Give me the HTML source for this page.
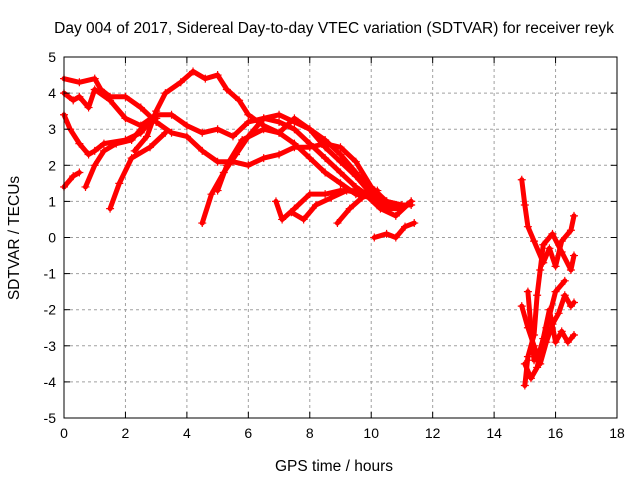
<!DOCTYPE html>
<html><head><meta charset="utf-8"><style>
body{margin:0;background:#fff}
svg{display:block;font-family:"Liberation Sans",sans-serif}
</style></head><body>
<svg id="chart" width="640" height="480" viewBox="0 0 640 480">
<rect width="640" height="480" fill="#fff"/>
<text x="334" y="33" font-size="15.5" text-anchor="middle">Day 004 of 2017, Sidereal Day-to-day VTEC variation (SDTVAR) for receiver reyk</text>
<g id="grid"></g>
<g id="series"></g>
<rect x="64" y="57" width="553" height="361" fill="none" stroke="#000" stroke-width="1"/>
<g id="ticks"></g>
<text transform="translate(19,238) rotate(-90)" font-size="15.5" text-anchor="middle">SDTVAR / TECUs</text>
<text x="334" y="471" font-size="15.5" text-anchor="middle">GPS time / hours</text>
</svg>
<script>
const xTicks=[0,2,4,6,8,10,12,14,16,18];
const yTicks=[-5,-4,-3,-2,-1,0,1,2,3,4,5];
const tracksX=[
[0,0.5,1,1.2,1.5,2,2.5,3,3.5,4,4.5,5,5.5,6,6.5,7,7.5,8,8.5,9,9.5,10,10.5,11,11.3],
[0,0.3,0.5,0.8,1,1.5,2,2.5,3,3.5,4,4.5,5,5.5,6,6.5,7,7.5,8,8.5,9,9.5,10,10.5,11],
[0,0.2,0.5,0.8,1,1.3,2,2.5,2.8,3],
[2.3,2.7,3,3.3,3.8,4.2,4.6,5,5.3,5.7,6,6.5,7,7.5,8,8.5,9,9.5,10],
[0,0.3,0.5],
[0.7,1,1.3,1.7,2.2,2.6,3],
[1.5,1.8,2.2,2.8,3.3],
[4.5,4.8,5.2,5.6,6,6.5,7,7.5,8,8.5,9,9.5,10,10.5,11],
[5,5.3,5.8,6.5,7,7.5,8,8.5,9,9.5,10,10.5],
[6.9,7.1,7.5,8,8.5,9,9.5,10,10.5,11,11.3],
[7.4,7.8,8.2,8.7,9.2,9.8,10.3,10.8,11.3],
[8.9,9.3,9.7,10.2],
[10.1,10.5,10.8,11.1,11.4],
[14.9,15,15.1,15.3,15.6,15.8,16,16.2,16.5,16.6],
[15,15.1,15.3,15.4,15.5,15.6,15.9,16.2,16.5,16.6],
[14.9,15.1,15.3,15.5,15.7,15.9,16.1,16.3,16.5,16.6],
[15,15.2,15.4,15.6,15.8,16,16.2,16.4,16.6],
[15.1,15.2,15.3,15.5,15.7,16,16.3]
];
const tracksY=[
[4.4,4.3,4.4,4.1,3.9,3.9,3.6,3.2,2.9,2.8,2.4,2.1,2.1,2.0,2.2,2.3,2.5,2.5,2.6,2.5,2.1,1.4,1.0,0.9,0.9],
[4.0,3.8,3.9,3.6,4.1,3.8,3.3,3.1,3.4,3.4,3.1,2.9,3.0,2.8,3.2,3.3,3.2,3.0,2.6,2.2,1.8,1.4,1.1,0.8,0.8],
[3.4,3.0,2.6,2.3,2.4,2.6,2.7,2.9,3.2,3.3],
[2.4,2.8,3.5,4.0,4.3,4.6,4.4,4.5,4.1,3.8,3.4,3.1,2.9,2.6,2.2,1.8,1.5,1.2,1.1],
[1.4,1.7,1.8],
[1.4,2.0,2.4,2.6,2.7,3.1,3.3],
[0.8,1.5,2.2,2.5,2.9],
[0.4,1.2,1.8,2.3,2.8,3.3,3.4,3.2,3.0,2.5,2.1,1.7,1.2,1.0,0.9],
[1.3,2.0,2.7,3.0,2.9,3.3,3.0,2.7,2.3,1.8,1.3,1.0],
[1.0,0.5,0.8,1.2,1.2,1.3,1.3,1.2,0.9,0.8,1.0],
[0.7,0.5,0.9,1.1,1.3,1.2,0.8,0.6,1.0],
[0.4,0.8,1.1,1.3],
[0.0,0.1,0.0,0.3,0.4],
[1.6,0.9,0.3,-0.1,-0.7,-0.3,-0.8,-0.1,0.2,0.6],
[-4.1,-3.3,-2.7,-1.6,-0.9,-0.2,0.1,-0.4,-0.9,-0.5],
[-1.9,-2.5,-3.0,-3.5,-2.9,-2.4,-2.1,-1.6,-1.9,-1.8],
[-3.5,-3.9,-3.6,-2.8,-2.0,-2.9,-2.6,-2.9,-2.7],
[-1.5,-2.5,-3.4,-3.1,-2.5,-1.5,-1.2]
];
const L=64,R=617,T=57,B=418;
const sx=v=>L+(v-0)/18*(R-L);
const sy=v=>T+(5-v)/10*(B-T);
const NS='http://www.w3.org/2000/svg';
const grid=document.getElementById('grid'),ticks=document.getElementById('ticks'),series=document.getElementById('series');
function mk(tag,attrs,parent){const e=document.createElementNS(NS,tag);for(const k in attrs)e.setAttribute(k,attrs[k]);parent.appendChild(e);return e;}
xTicks.forEach(v=>{
 const x=sx(v);
 if(v>0&&v<18){const g=mk('line',{x1:x,x2:x,y1:T,y2:B,stroke:'#a0a0a0','stroke-dasharray':'3,3'},grid);
 
 }
 mk('line',{x1:x,x2:x,y1:B,y2:B-6,stroke:'#000'},ticks);
 mk('line',{x1:x,x2:x,y1:T,y2:T+6,stroke:'#000'},ticks);
 const t=mk('text',{x:x,y:B+20,'font-size':14,'text-anchor':'middle'},ticks);t.textContent=v;
 
 
});
yTicks.forEach(v=>{
 const y=sy(v);
 if(v>-5&&v<5){const g=mk('line',{x1:L,x2:R,y1:y,y2:y,stroke:'#a0a0a0','stroke-dasharray':'3,3'},grid);
 
 }
 mk('line',{x1:L,x2:L+6,y1:y,y2:y,stroke:'#000'},ticks);
 mk('line',{x1:R,x2:R-6,y1:y,y2:y,stroke:'#000'},ticks);
 const t=mk('text',{x:L-8,y:y+5,'font-size':14,'text-anchor':'end'},ticks);t.textContent=v;
 
 
});
tracksX.forEach((xs,i)=>{
 const ys=tracksY[i];
 const pts=xs.map((x,j)=>sx(x)+','+sy(ys[j])).join(' ');
 const p=mk('polyline',{points:pts,fill:'none',stroke:'#ff0000','stroke-width':5,'stroke-linejoin':'round','stroke-linecap':'round'},series);
 
 
 xs.forEach((x,j)=>{
  const cx=sx(x),cy=sy(ys[j]);
  const m=mk('path',{d:`M${cx-4},${cy}h8M${cx},${cy-4}v8`,stroke:'#ff0000','stroke-width':1.2},series);
  
  
 });
});
</script>
</body></html>
